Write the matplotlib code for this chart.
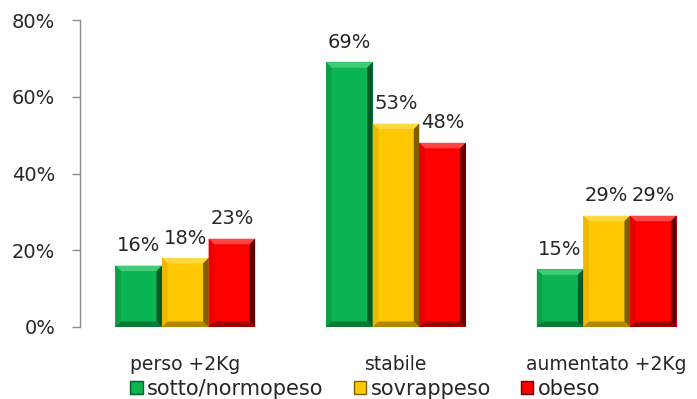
import matplotlib
matplotlib.use("Agg")
import matplotlib.pyplot as plt
from matplotlib.patches import Polygon, Patch
from matplotlib.ticker import PercentFormatter
import numpy as np

categories = ["perso +2Kg", "stabile", "aumentato +2Kg"]
series_names = ["sotto/normopeso", "sovrappeso", "obeso"]
sotto_normopeso = [0.16, 0.69, 0.15]
sovrappeso = [0.18, 0.53, 0.29]
obeso = [0.23, 0.48, 0.29]
series_values = [sotto_normopeso, sovrappeso, obeso]
y_ticks = [0.0, 0.2, 0.4, 0.6, 0.8]

# base, top highlight, left edge, right shadow, bottom shadow
palettes = [
    ("#0bb552", "#3fcc77", "#09a048", "#045a26", "#077a36"),
    ("#ffc800", "#ffd940", "#eeb800", "#7d5e00", "#b08700"),
    ("#ff0000", "#ff4444", "#e80000", "#5e0000", "#9c0000"),
]

W, H, DPI = 697, 399, 100
fig = plt.figure(figsize=(W / DPI, H / DPI), dpi=DPI)
ax_left_px, ax_right_px, ax_top_px, ax_bot_px = 80, 712, 20, 327
ax = fig.add_axes([ax_left_px / W, 1 - ax_bot_px / H,
                   (ax_right_px - ax_left_px) / W, (ax_bot_px - ax_top_px) / H])

x = np.arange(len(categories))
bar_w = 0.221
ax.set_xlim(-0.5, len(categories) - 0.5)
ax.set_ylim(0, 0.8)

px_per_x = (ax_right_px - ax_left_px) / (len(categories))
px_per_y = (ax_bot_px - ax_top_px) / 0.8
bev_px = 5.5
dx = bev_px / px_per_x
dy = bev_px / px_per_y

font = "DejaVu Sans"
text_color = "#262626"

for i, (vals, pal) in enumerate(zip(series_values, palettes)):
    base, top_c, left_c, right_c, bot_c = pal
    bars = ax.bar(x + (i - 1) * bar_w, vals, width=bar_w, color=base,
                  linewidth=0, zorder=2)
    for b, v in zip(bars, vals):
        x0, y0 = b.get_x(), b.get_y()
        x1, y1 = x0 + b.get_width(), y0 + b.get_height()
        faces = [
            ([(x0, y1), (x1, y1), (x1 - dx, y1 - dy), (x0 + dx, y1 - dy)], top_c),
            ([(x0, y0), (x0, y1), (x0 + dx, y1 - dy), (x0 + dx, y0 + dy)], left_c),
            ([(x0, y0), (x1, y0), (x1 - dx, y0 + dy), (x0 + dx, y0 + dy)], bot_c),
            ([(x1, y1), (x1, y0), (x1 - dx, y0 + dy), (x1 - dx, y1 - dy)], right_c),
        ]
        for pts, c in faces:
            ax.add_patch(Polygon(pts, closed=True, facecolor=c, edgecolor="none",
                                 zorder=3))
        ax.annotate(f"{round(v * 100):d}%", (b.get_x() + b.get_width() / 2, y1),
                    xytext=(0, 7.5), textcoords="offset points",
                    ha="center", va="bottom", fontsize=14, family=font,
                    color=text_color)

ax.set_yticks(y_ticks)
ax.yaxis.set_major_formatter(PercentFormatter(1.0, decimals=0))
ax.set_xticks(x)
ax.set_xticklabels(categories, fontsize=13.5, family=font, color=text_color)
ax.tick_params(axis="x", length=0, pad=20)
ax.tick_params(axis="y", length=5.8, width=1, color="#8c8c8c", pad=12,
               labelsize=14, labelcolor=text_color)
for lab in ax.get_yticklabels():
    lab.set_family(font)

for s in ["top", "right", "bottom"]:
    ax.spines[s].set_visible(False)
ax.spines["left"].set_color("#8c8c8c")
ax.spines["left"].set_linewidth(1)

handles = [Patch(facecolor=p[0], edgecolor=p[3], linewidth=1) for p in palettes]
fig.legend(handles, series_names, loc="center", bbox_to_anchor=(0.524, 0.025),
           ncol=3, frameon=False, handlelength=0.6, handleheight=0.6,
           handletextpad=0.2, columnspacing=1.45, borderpad=0,
           prop={"family": font, "size": 15}, labelcolor=text_color)

fig.savefig("out.png", dpi=DPI)
